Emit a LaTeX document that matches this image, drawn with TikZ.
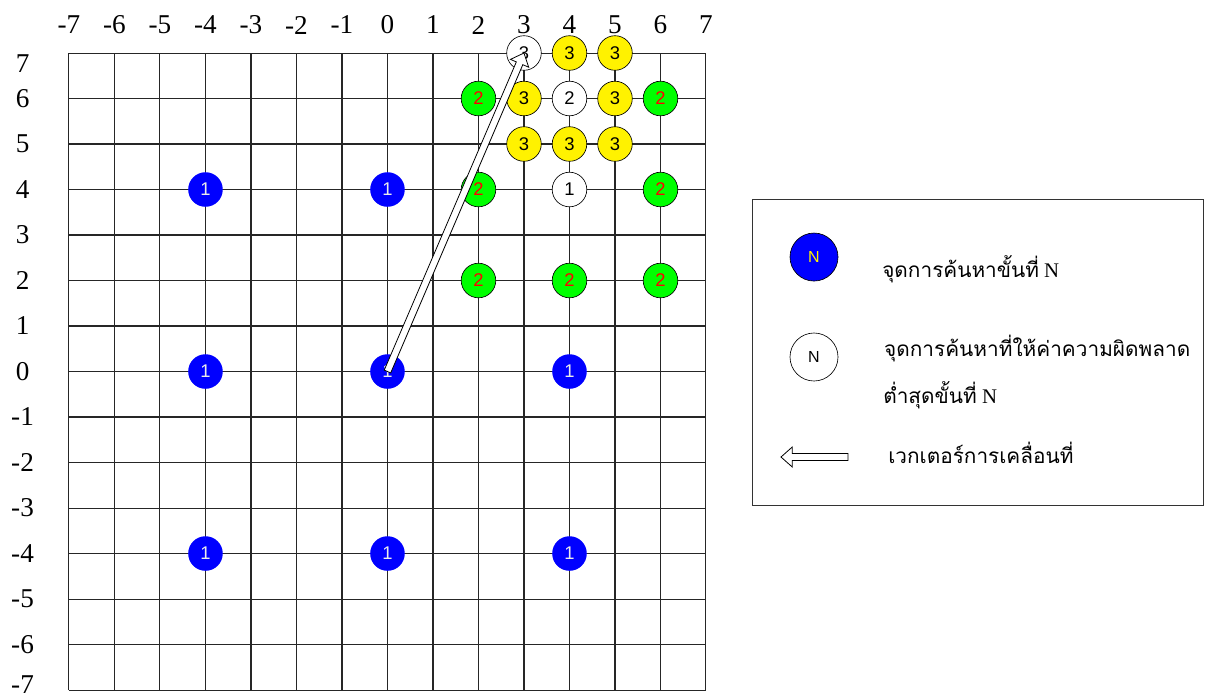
\documentclass[tikz,border=0pt]{standalone}
\usepackage{fontspec}
\setmainfont{Liberation Serif}
\newfontfamily\arialfont{Liberation Sans}
\newfontfamily\thaifont[Script=Thai]{Loma}
\usetikzlibrary{calc}

% hollow block arrow from node #1 to node #2
\newcommand{\vecarrow}[2]{%
  \coordinate (vechb) at ($(#2.center)!7pt!(#1.center)$);
  \draw[vecline] ($(#1.center)!2.2pt!90:(#2.center)$)
    -- ($(vechb)!2.2pt!-90:(#1.center)$) -- ($(vechb)!6.2pt!-90:(#1.center)$)
    -- (#2.center)
    -- ($(vechb)!6.2pt!90:(#1.center)$) -- ($(vechb)!2.2pt!90:(#1.center)$)
    -- ($(#1.center)!2.2pt!-90:(#2.center)$) -- cycle;}

\begin{document}
\begin{tikzpicture}[
    gridline/.style={line width=0.65pt, black!85},
    axislabel/.style={font=\fontsize{17}{20}\selectfont, inner sep=0pt},
    point/.style={circle, minimum size=0.76cm, inner sep=0pt,
                  font=\arialfont\fontsize{11.5}{13}\selectfont},
    stepone/.style={point, fill=blue, text=black!8},
    steptwo/.style={point, draw=black, thin, fill=green, text=red},
    stepthree/.style={point, draw=black, thin, fill=yellow, text=black},
    best/.style={point, draw=black, thin, fill=white, text=black},
    vecline/.style={draw=black, line width=0.5pt, fill=white, line join=miter},
    legpoint/.style={circle, draw=black, thin, minimum size=1.055cm, inner sep=0pt,
                     font=\arialfont\fontsize{10}{12}\selectfont},
    legtext/.style={anchor=base west, inner sep=0pt,
                    font=\fontsize{13}{15}\selectfont},
  ]
  \useasboundingbox (-8.516,-7.154) rectangle (18.055,8.165);

  % search grid
  \draw[gridline] (-7,-7) grid (7,7);

  % axis numbers
  \foreach \i in {-7,...,7}
    \node[axislabel] (top\i) at (\i,7.615) {\i};
  \foreach \j in {-6,...,6}
    \node[axislabel] (left\j) at (-8.02,\j) {\j};
  \node[axislabel] (left7) at (-8.02,6.76) {7};
  \node[axislabel] (left-7) at (-8.02,-6.88) {-7};

  % step 1
  \foreach \x/\y in {-4/4, 0/4, -4/0, 4/0, -4/-4, 0/-4, 4/-4}
    \node[stepone] (a\x\y) at (\x,\y) {1};
  \node[stepone] (o) at (0,0) {1};
  \node[best] (w1) at (4,4) {1};

  % step 2
  \foreach \x/\y in {2/6, 6/6, 2/4, 6/4, 2/2, 4/2, 6/2}
    \node[steptwo] (b\x\y) at (\x,\y) {2};
  \node[best] (w2) at (4,6) {2};

  % step 3
  \foreach \x/\y in {4/7, 5/7, 3/6, 5/6, 3/5, 4/5, 5/5}
    \node[stepthree] (c\x\y) at (\x,\y) {3};
  \node[best] (w3) at (3,7) {3};

  % motion vector
  \vecarrow{o}{w3}

  % legend
  \node[draw=black!80, line width=0.6pt, minimum width=9.912cm,
        minimum height=6.725cm, inner sep=0pt] (leg) at (12.967,0.4285) {};
  \node[legpoint, fill=blue, text=yellow] (kblue) at (9.374,2.516) {N};
  \node[legpoint, fill=white] (kwhite) at (9.374,0.319) {N};
  \coordinate (legvs) at (10.12,-1.879);
  \coordinate (legve) at (8.648,-1.879);
  \vecarrow{legvs}{legve}

  \node[legtext] (t1) at (10.868,2.077) {{\thaifont จุดการค้นหาขั้นที่} N};
  \node[legtext] (t2) at (10.91,0.341) {\thaifont จุดการค้นหาที่ให้ค่าความผิดพลาด};
  \node[legtext] (t3) at (10.89,-0.692) {{\thaifont ต่ำสุดขั้นที่} N};
  \node[legtext] (t4) at (11.0,-2.011) {\thaifont เวกเตอร์การเคลื่อนที่};
\end{tikzpicture}
\end{document}
